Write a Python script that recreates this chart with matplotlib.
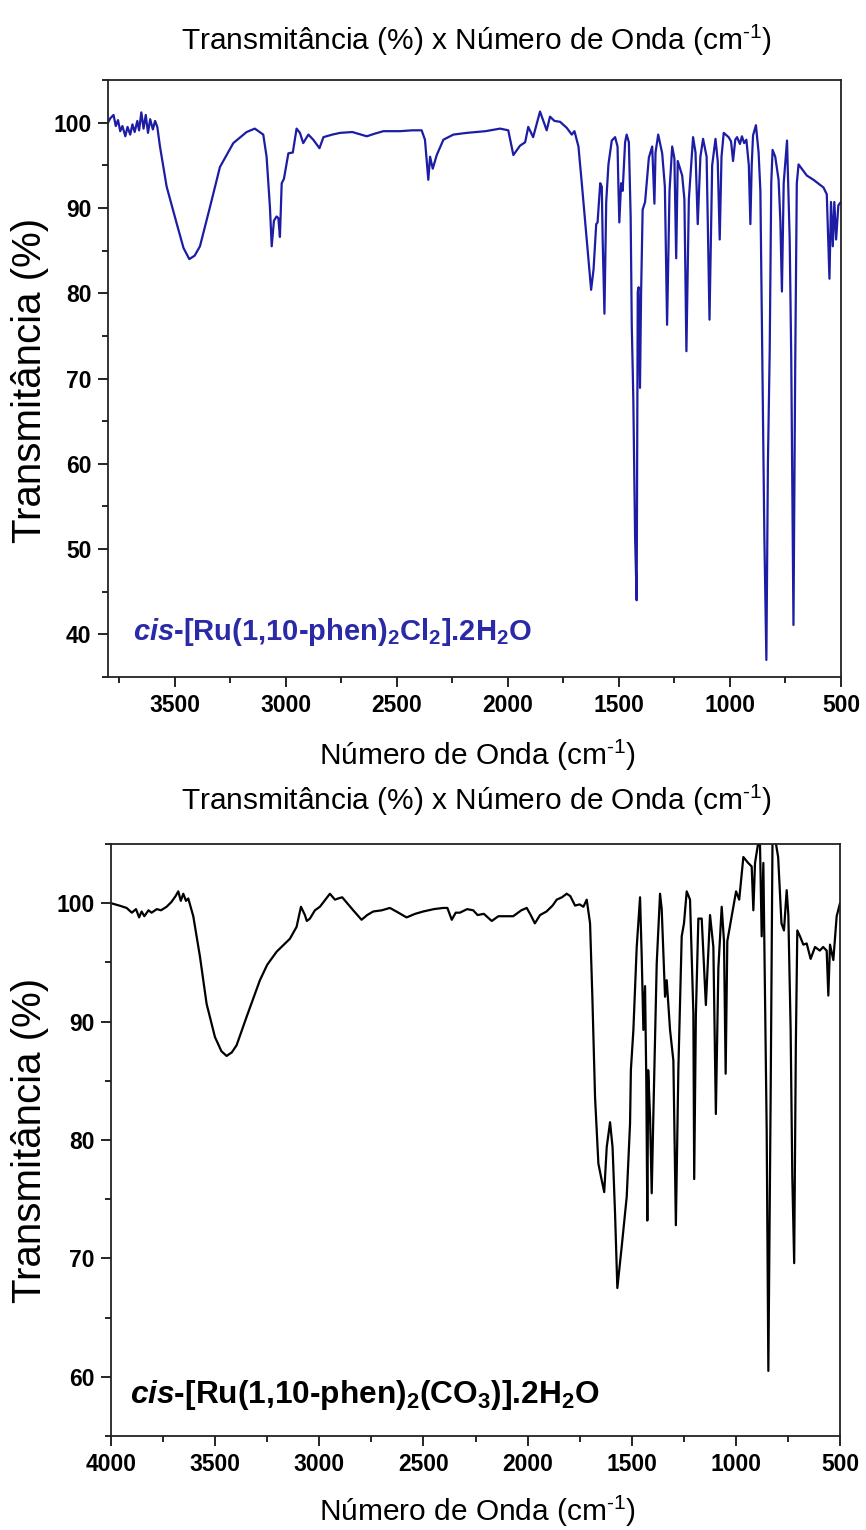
import matplotlib
matplotlib.use("Agg")
import matplotlib.pyplot as plt
from matplotlib.ticker import MultipleLocator

plt.rcParams['font.family'] = ['Liberation Sans', 'DejaVu Sans']
plt.rcParams['mathtext.fontset'] = 'custom'
plt.rcParams['mathtext.rm'] = 'Liberation Sans'
plt.rcParams['mathtext.it'] = 'Liberation Sans:italic'
plt.rcParams['mathtext.bf'] = 'Liberation Sans:bold'
plt.rcParams['mathtext.bfit'] = 'Liberation Sans:italic:bold'
plt.rcParams['mathtext.default'] = 'regular'

# ---------------- data ----------------
wn_cl = [3800, 3790, 3775, 3765, 3755, 3745, 3735, 3722, 3712, 3700, 3690, 3680, 3668, 3660, 3650, 3640,
         3630, 3620, 3610, 3598, 3588, 3578, 3566, 3536, 3491, 3460, 3434, 3410, 3386, 3341, 3296, 3236,
         3176, 3139, 3101, 3086, 3071, 3063, 3053, 3041, 3033, 3026, 3018, 3008, 2988, 2968, 2951, 2936,
         2921, 2898, 2876, 2848, 2830, 2790, 2755, 2700, 2635, 2600, 2560, 2485, 2430, 2388, 2373, 2358,
         2350, 2338, 2320, 2290, 2245, 2185, 2100, 2035, 1998, 1975, 1945, 1922, 1908, 1886, 1855, 1825,
         1810, 1790, 1765, 1735, 1712, 1700, 1682, 1667, 1645, 1625, 1614, 1602, 1596, 1584, 1577, 1573,
         1565, 1557, 1547, 1532, 1517, 1506, 1502, 1498, 1490, 1483, 1472, 1465, 1455, 1447, 1442, 1435,
         1427, 1420, 1415, 1411, 1405, 1400, 1393, 1382, 1365, 1350, 1340, 1335, 1323, 1305, 1293, 1283,
         1272, 1260, 1250, 1242, 1235, 1215, 1205, 1196, 1185, 1166, 1155, 1145, 1133, 1121, 1105, 1092,
         1080, 1065, 1055, 1046, 1038, 1028, 1006, 995, 986, 976, 968, 955, 946, 936, 926, 915,
         908, 902, 896, 883, 871, 863, 853, 845, 836, 829, 821, 814, 808, 796, 781, 773,
         766, 758, 743, 731, 724, 714, 706, 699, 691, 654, 624, 579, 564, 552, 545, 537,
         530, 522, 512, 500]
t_cl = [100.0, 100.5, 100.9, 99.6, 100.3, 99.0, 99.6, 98.4, 99.5, 98.6, 99.8, 98.9, 100.2, 99.1, 101.2, 99.3,
        100.9, 98.8, 100.4, 99.2, 100.2, 99.5, 97.2, 92.5, 88.2, 85.3, 84.0, 84.4, 85.5, 90.1, 94.8, 97.6,
        98.9, 99.3, 98.6, 96.0, 90.1, 85.5, 88.5, 89.0, 88.8, 86.6, 92.9, 93.4, 96.4, 96.5, 99.3, 98.8,
        97.6, 98.6, 98.0, 97.0, 98.3, 98.6, 98.8, 98.9, 98.4, 98.7, 99.0, 99.0, 99.1, 99.1, 98.0, 93.3,
        96.0, 94.6, 96.2, 98.0, 98.6, 98.8, 99.0, 99.3, 99.1, 96.2, 97.3, 97.7, 99.5, 98.3, 101.3, 99.1,
        100.7, 100.2, 100.1, 99.4, 98.6, 99.0, 97.2, 92.9, 86.3, 80.4, 82.8, 88.1, 88.3, 92.9, 92.5, 86.3,
        77.6, 90.7, 95.1, 97.9, 98.3, 97.2, 92.4, 88.3, 92.9, 92.0, 97.7, 98.6, 97.7, 89.0, 76.3, 67.6,
        51.4, 44.0, 80.2, 80.7, 68.9, 80.0, 89.8, 90.7, 95.9, 97.2, 90.5, 96.5, 98.6, 96.4, 92.5, 76.3,
        92.0, 97.2, 95.8, 84.1, 95.5, 93.8, 91.0, 73.2, 91.0, 98.3, 96.5, 88.1, 96.0, 98.1, 96.0, 76.9,
        95.0, 98.1, 95.5, 86.3, 96.0, 98.8, 98.3, 97.8, 95.5, 98.0, 98.3, 97.5, 98.4, 97.6, 98.0, 95.0,
        88.1, 95.0, 98.5, 99.7, 96.5, 92.0, 68.9, 51.4, 37.0, 60.1, 73.2, 92.9, 96.8, 96.0, 93.3, 88.5,
        80.2, 92.9, 97.9, 86.3, 72.4, 41.1, 72.0, 92.9, 95.1, 93.8, 93.3, 92.4, 91.6, 81.7, 90.7, 85.5,
        90.7, 86.3, 90.3, 90.7]

wn_co3 = [4000, 3960, 3925, 3900, 3880, 3865, 3853, 3840, 3820, 3805, 3780, 3760, 3733, 3710, 3690, 3677,
          3665, 3653, 3640, 3629, 3605, 3573, 3541, 3501, 3470, 3445, 3420, 3397, 3349, 3285, 3250, 3205,
          3141, 3109, 3088, 3069, 3060, 3045, 3021, 2997, 2949, 2925, 2909, 2890, 2837, 2797, 2770, 2741,
          2700, 2661, 2620, 2581, 2540, 2501, 2450, 2405, 2385, 2364, 2345, 2325, 2290, 2261, 2240, 2210,
          2172, 2140, 2100, 2069, 2030, 2004, 1985, 1965, 1940, 1909, 1880, 1860, 1835, 1812, 1795, 1772,
          1750, 1732, 1716, 1700, 1689, 1676, 1660, 1644, 1632, 1620, 1604, 1592, 1580, 1569, 1548, 1524,
          1508, 1504, 1492, 1476, 1460, 1452, 1444, 1436, 1430, 1425, 1421, 1412, 1404, 1396, 1380, 1364,
          1356, 1340, 1332, 1316, 1300, 1288, 1276, 1260, 1249, 1236, 1220, 1204, 1200, 1192, 1180, 1164,
          1144, 1124, 1108, 1096, 1084, 1068, 1057, 1049, 1041, 1020, 999, 984, 964, 941, 924, 916,
          908, 889, 884, 876, 868, 860, 852, 844, 833, 824, 812, 797, 781, 769, 756, 748,
          737, 729, 720, 712, 705, 692, 676, 660, 641, 620, 597, 581, 564, 556, 548, 532,
          516, 504, 500]
t_co3 = [100.0, 99.8, 99.6, 99.2, 99.5, 98.8, 99.3, 98.9, 99.4, 99.2, 99.5, 99.4, 99.7, 100.1, 100.6, 101.0,
         100.2, 100.8, 100.2, 100.4, 98.9, 95.5, 91.5, 88.7, 87.5, 87.1, 87.4, 88.0, 90.4, 93.5, 94.8, 95.9,
         97.0, 98.0, 99.7, 99.0, 98.5, 98.7, 99.4, 99.7, 100.8, 100.3, 100.4, 100.5, 99.4, 98.6, 99.0, 99.3,
         99.4, 99.6, 99.2, 98.8, 99.1, 99.3, 99.5, 99.6, 99.6, 98.6, 99.2, 99.2, 99.5, 99.4, 99.0, 99.1,
         98.5, 98.9, 98.9, 98.9, 99.4, 99.6, 99.0, 98.3, 99.0, 99.3, 99.8, 100.3, 100.5, 100.8, 100.6, 99.8,
         99.9, 99.7, 100.3, 98.3, 92.1, 83.6, 78.0, 76.6, 75.6, 79.4, 81.5, 79.4, 73.8, 67.5, 71.0, 75.2,
         81.4, 85.9, 89.3, 96.3, 100.5, 95.5, 89.3, 93.0, 85.0, 73.2, 85.9, 82.0, 75.5, 82.2, 94.9, 100.8,
         99.5, 92.1, 93.5, 89.3, 86.7, 72.8, 86.0, 97.2, 98.3, 101.0, 100.3, 90.7, 76.7, 90.5, 98.7, 98.7,
         91.4, 99.0, 96.3, 82.2, 94.5, 99.7, 96.8, 85.6, 96.8, 98.9, 101.0, 100.3, 103.9, 103.4, 103.1, 99.4,
         103.4, 105.5, 104.9, 97.2, 103.4, 92.1, 80.8, 60.5, 83.6, 105.5, 105.5, 103.9, 98.3, 97.7, 101.1, 99.0,
         89.3, 76.9, 69.6, 88.0, 97.7, 97.2, 96.5, 96.6, 95.3, 96.3, 96.0, 96.3, 96.0, 92.2, 96.5, 95.2,
         98.9, 99.7, 100.0]

title_txt = r'Transmitância (%) x Número de Onda (cm$^{\text{-}1}$)'
xlabel_txt = r'Número de Onda (cm$^{\text{-}1}$)'
ylabel_txt = 'Transmitância (%)'
label_cl = r'$\mathbfit{cis}$-[Ru(1,10-phen)$_{2}$Cl$_{2}$].2H$_{2}$O'
label_co3 = r'$\mathbfit{cis}$-[Ru(1,10-phen)$_{2}$(CO$_{3}$)].2H$_{2}$O'

# ---------------- figure ----------------
W, H = 866, 1530
fig = plt.figure(figsize=(W / 100, H / 100), dpi=100)

def box(l, r, t, b):
    return [l / W, 1 - b / H, (r - l) / W, (b - t) / H]

ax1 = fig.add_axes(box(108, 841, 80, 677))
ax2 = fig.add_axes(box(111, 840, 844, 1436))

blue = '#1c1ca4'
ax1.plot(wn_cl, t_cl, color=blue, lw=1.6)
ax2.plot(wn_co3, t_co3, color='black', lw=1.6)

ax1.set_xlim(3800, 500)
ax1.set_ylim(35, 105)
ax2.set_xlim(4000, 500)
ax2.set_ylim(55, 105)

tick_font = {'family': 'Liberation Sans', 'weight': 'bold', 'size': 16.5}
for ax in (ax1, ax2):
    ax.xaxis.set_major_locator(MultipleLocator(500))
    ax.xaxis.set_minor_locator(MultipleLocator(250))
    ax.yaxis.set_major_locator(MultipleLocator(10))
    ax.yaxis.set_minor_locator(MultipleLocator(5))
    ax.tick_params(which='major', direction='out', length=7, width=1.2, pad=5)
    ax.tick_params(which='minor', direction='out', length=4, width=1.2)
    ax.tick_params(top=False, right=False, which='both')
    for lab in ax.get_xticklabels() + ax.get_yticklabels():
        lab.set_fontproperties(tick_font)
    for s in ax.spines.values():
        s.set_linewidth(1.3)
        s.set_color('#222222')

lab_font = dict(family='Liberation Sans', size=21.5)
fig.text(476 / W, 1 - 40 / H, title_txt, ha='center', va='center', **lab_font)
fig.text(476 / W, 1 - 800 / H, title_txt, ha='center', va='center', **lab_font)
fig.text(478 / W, 1 - 755 / H, xlabel_txt, ha='center', va='center', **lab_font)
fig.text(478 / W, 1 - 1511 / H, xlabel_txt, ha='center', va='center', **lab_font)
fig.text(30 / W, 1 - 380 / H, ylabel_txt, ha='center', va='center', rotation=90,
         family='Liberation Sans', size=29)
fig.text(30 / W, 1 - 1140 / H, ylabel_txt, ha='center', va='center', rotation=90,
         family='Liberation Sans', size=29)

ax1.text(0.034, 0.075, label_cl, transform=ax1.transAxes, color='#2a2aa8', fontsize=21,
         fontweight='bold', family='Liberation Sans', ha='left', va='center')
ax2.text(0.026, 0.07, label_co3, transform=ax2.transAxes, color='black', fontsize=22.8,
         fontweight='bold', family='Liberation Sans', ha='left', va='center')

fig.savefig('out.png', dpi=100)
